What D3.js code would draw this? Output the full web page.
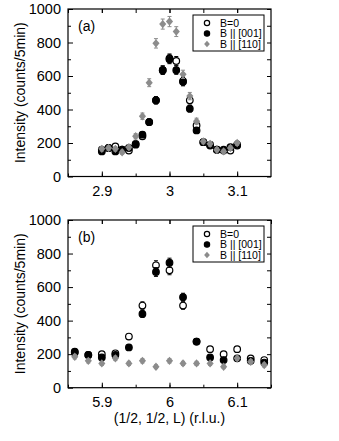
<!DOCTYPE html>
<html>
<head>
<meta charset="utf-8">
<script src="https://cdn.jsdelivr.net/npm/d3@7"></script>
<style>
  body { margin: 0; background: #fff; }
  svg text { font-family: "Liberation Sans", Arial, sans-serif; }
</style>
</head>
<body>
<svg id="chart" width="339" height="441"></svg>
<script>
// panel (a): L around 3
const lA = [2.90, 2.91, 2.92, 2.93, 2.94, 2.95, 2.96, 2.97, 2.98, 2.99, 3.00, 3.01, 3.02, 3.03, 3.04, 3.05, 3.06, 3.07, 3.08, 3.09, 3.10];
const zeroA = [160, 170, 180, 160, 155, 195, 240, 325, 455, 635, 705, 690, 570, 455, 305, 205, 190, 160, 155, 155, 190];
const b001A = [150, 170, 150, 160, 170, 190, 250, 325, 455, 635, 700, 635, 565, 405, 275, 205, 185, 160, 160, 175, 185];
const b110A = [165, 170, 165, 145, 175, 240, 360, 560, 795, 910, 925, 865, 610, 480, 330, 210, 195, 160, 150, 170, 200];

// panel (b): L around 6
const lB = [5.86, 5.88, 5.90, 5.92, 5.94, 5.96, 5.98, 6.00, 6.02, 6.04, 6.06, 6.08, 6.10, 6.12, 6.14];
const zeroB = [210, 195, 200, 205, 305, 490, 730, 700, 490, 275, 230, 200, 230, 175, 165];
const b001B = [215, 195, 180, 195, 240, 440, 690, 745, 540, 275, 180, 165, 175, 160, 150];
const b110B = [185, 160, 145, 175, 145, 160, 125, 160, 145, 145, 145, 125, 175, 155, 135];

const legendLabels = ['B=0', 'B || [001]', 'B || [110]'];
const yTicks = [0, 200, 400, 600, 800, 1000];

const svg = d3.select('#chart');
const left = 68, right = 271;
const grey = '#8c8c8c';

function panel(top, bottom, domain, ticks, tag, L, series) {
  const x = d3.scaleLinear().domain(domain).range([left, right]);
  const y = d3.scaleLinear().domain([0, 1000]).range([bottom, top]);
  const g = svg.append('g');

  // inward ticks on all four sides
  const minorX = d3.range(Math.ceil(domain[0] * 20) / 20, domain[1], 0.05);
  const minorY = d3.range(100, 1000, 200);
  g.append('g').attr('transform', `translate(0,${bottom})`)
    .call(d3.axisBottom(x).tickValues(ticks).tickFormat(d3.format('')).tickSizeInner(-5).tickSizeOuter(0).tickPadding(9));
  g.append('g').attr('transform', `translate(0,${bottom})`)
    .call(d3.axisBottom(x).tickValues(minorX).tickFormat('').tickSizeInner(-3).tickSizeOuter(0));
  g.append('g').attr('transform', `translate(0,${top})`)
    .call(d3.axisTop(x).tickValues(minorX.concat(ticks)).tickFormat('').tickSizeInner(-4).tickSizeOuter(0));
  g.append('g').attr('transform', `translate(${left},0)`)
    .call(d3.axisLeft(y).tickValues(yTicks).tickFormat(d3.format('d')).tickSizeInner(-5).tickSizeOuter(0).tickPadding(7));
  g.append('g').attr('transform', `translate(${left},0)`)
    .call(d3.axisLeft(y).tickValues(minorY).tickFormat('').tickSizeInner(-3).tickSizeOuter(0));
  g.append('g').attr('transform', `translate(${right},0)`)
    .call(d3.axisRight(y).tickValues(yTicks.concat(minorY)).tickFormat('').tickSizeInner(-4).tickSizeOuter(0));
  g.selectAll('.domain').remove();
  g.selectAll('.tick line').attr('stroke', '#000').attr('stroke-width', 1);
  g.selectAll('.tick text').attr('font-size', 14.5).attr('fill', '#000');
  g.append('rect').attr('x', left).attr('y', top).attr('width', right - left).attr('height', bottom - top)
    .attr('fill', 'none').attr('stroke', '#000').attr('stroke-width', 1.2);

  g.append('text').attr('x', 78).attr('y', top + 22).attr('font-size', 14).text(tag);

  // data: open, black, grey diamonds
  series.forEach((s, k) => {
    const sg = g.append('g');
    s.forEach((v, i) => {
      const cx = x(L[i]), cy = y(v), e = Math.sqrt(v);
      const col = k === 2 ? grey : '#000';
      sg.append('line').attr('x1', cx).attr('x2', cx).attr('y1', y(v + e)).attr('y2', y(v - e))
        .attr('stroke', col).attr('stroke-width', 1);
      [v + e, v - e].forEach(t => sg.append('line').attr('x1', cx - 2).attr('x2', cx + 2)
        .attr('y1', y(t)).attr('y2', y(t)).attr('stroke', col).attr('stroke-width', 1));
      marker(sg, k, cx, cy, 1);
    });
  });

  // legend
  const lx = 193, ly = top + 6;
  g.append('rect').attr('x', lx).attr('y', ly).attr('width', 71).attr('height', 36)
    .attr('fill', '#fff').attr('stroke', '#000').attr('stroke-width', 1);
  legendLabels.forEach((t, k) => {
    const ry = ly + 8 + k * 10.5;
    marker(g, k, 207, ry, 0.8);
    g.append('text').attr('x', 220).attr('y', ry + 3.8).attr('font-size', 10.5).text(t);
  });
}

function marker(sel, k, cx, cy, s) {
  if (k === 2) {
    const r = 4.2 * s;
    sel.append('path').attr('d', `M${cx},${cy - r}L${cx + r * 0.85},${cy}L${cx},${cy + r}L${cx - r * 0.85},${cy}Z`)
      .attr('fill', grey);
  } else {
    sel.append('circle').attr('cx', cx).attr('cy', cy).attr('r', 3.3 * s)
      .attr('fill', k === 0 ? '#fff' : '#000').attr('stroke', '#000').attr('stroke-width', 1.2);
  }
}

panel(9, 176.5, [2.85, 3.15], [2.9, 3, 3.1], '(a)', lA, [zeroA, b001A, b110A]);
panel(220, 387.7, [5.85, 6.15], [5.9, 6, 6.1], '(b)', lB, [zeroB, b001B, b110B]);

// axis titles
[92.7, 303.8].forEach(cy => {
  svg.append('text').attr('transform', `translate(25,${cy}) rotate(-90)`).attr('text-anchor', 'middle')
    .attr('font-size', 14).text('Intensity (counts/5min)');
});
svg.append('text').attr('x', 169.5).attr('y', 423).attr('text-anchor', 'middle').attr('font-size', 14)
  .text('(1/2, 1/2, L) (r.l.u.)');
</script>
</body>
</html>
